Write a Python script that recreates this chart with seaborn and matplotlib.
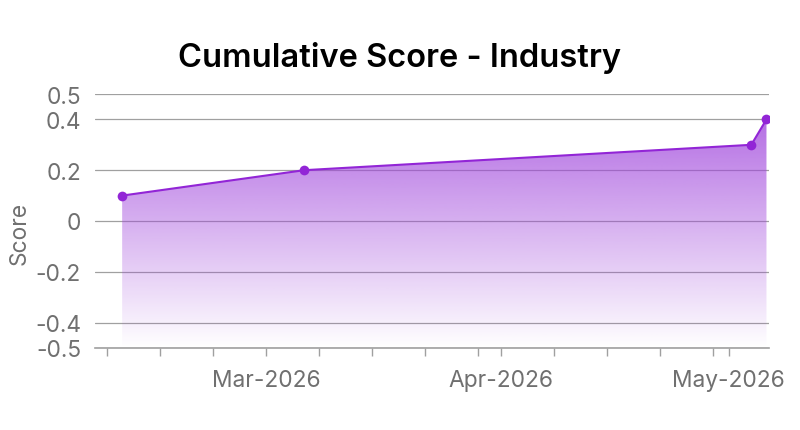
import matplotlib
matplotlib.use("Agg")
import matplotlib.pyplot as plt
import matplotlib.dates as mdates
import numpy as np
import pandas as pd
import seaborn as sns
from matplotlib.colors import to_rgb

dates = ["2026-02-10", "2026-03-06", "2026-05-04", "2026-05-06"]
scores = [0.1, 0.2, 0.3, 0.4]
y_ticks = [-0.5, -0.4, -0.2, 0, 0.2, 0.4, 0.5]
y_tick_labels = ["-0.5", "-0.4", "-0.2", "0", "0.2", "0.4", "0.5"]
title = "Cumulative Score - Industry"
y_label = "Score"

df = pd.DataFrame({"date": pd.to_datetime(dates), "score": scores})

sns.set_theme(style="white")
plt.rcParams["font.family"] = ["Inter", "DejaVu Sans"]

line_color = "#9225d6"
grid_color = "#a0a0a0"
text_color = "#707070"

fig = plt.figure(figsize=(8, 4.31), dpi=100)
ax = fig.add_axes([95 / 800, 1 - 349 / 431, (769 - 95) / 800, (349 - 95) / 431])

x_left = pd.Timestamp("2026-02-06 10:00")
x_right = pd.Timestamp("2026-05-06 08:00")
ax.set_xlim(x_left, x_right)
ax.set_ylim(-0.5, 0.5)

# gradient fill under the line
poly = ax.fill_between(df["date"], df["score"], -0.5, color="none", lw=0)
rgb = to_rgb("#a046dc")
n = 256
alpha = np.linspace(0.0, 0.78, n).reshape(n, 1)
img = np.zeros((n, 1, 4))
img[:, :, 0] = rgb[0]
img[:, :, 1] = rgb[1]
img[:, :, 2] = rgb[2]
img[:, :, 3] = alpha
xnum = mdates.date2num([df["date"].min(), df["date"].max()])
im = ax.imshow(img, aspect="auto", origin="lower",
               extent=[xnum[0], xnum[1], -0.5, max(scores)], zorder=1)
path = poly.get_paths()[0]
im.set_clip_path(path, transform=ax.transData)

sns.lineplot(data=df, x="date", y="score", ax=ax, color=line_color, lw=1.5,
             marker="o", markersize=7, markeredgewidth=0, zorder=3)

ax.set_xlim(x_left, x_right)
ax.set_ylim(-0.5, 0.5)

ax.set_yticks(y_ticks)
ax.set_yticklabels(y_tick_labels)
ax.yaxis.grid(True, color=grid_color, lw=0.9)
ax.set_axisbelow(True)

ax.xaxis.set_major_locator(mdates.MonthLocator(bymonthday=1))
ax.xaxis.set_major_formatter(mdates.DateFormatter("%b-%Y"))
ax.xaxis.set_minor_locator(mdates.DayLocator(bymonthday=[8, 15, 22, 29]))

for s in ["left", "right", "top"]:
    ax.spines[s].set_visible(False)
ax.spines["bottom"].set_color(grid_color)
ax.spines["bottom"].set_linewidth(1.2)

ax.tick_params(axis="x", which="both", direction="out", length=6, width=1,
               color=grid_color, labelsize=16.4, labelcolor=text_color, pad=9,
               bottom=True)
ax.tick_params(axis="y", length=0, labelsize=16.4, labelcolor=text_color, pad=10)

ax.set_xlabel("")
ax.set_ylabel(y_label, fontsize=16.4, color=text_color)
ax.yaxis.set_label_coords(-(95 - 31) / 674, (349 - 233) / 254)
fig.text(400 / 800, 1 - 58 / 431, title, ha="center", va="center",
         fontsize=23.5, fontweight=600, color="#000000")

fig.savefig("out.png", dpi=100)
